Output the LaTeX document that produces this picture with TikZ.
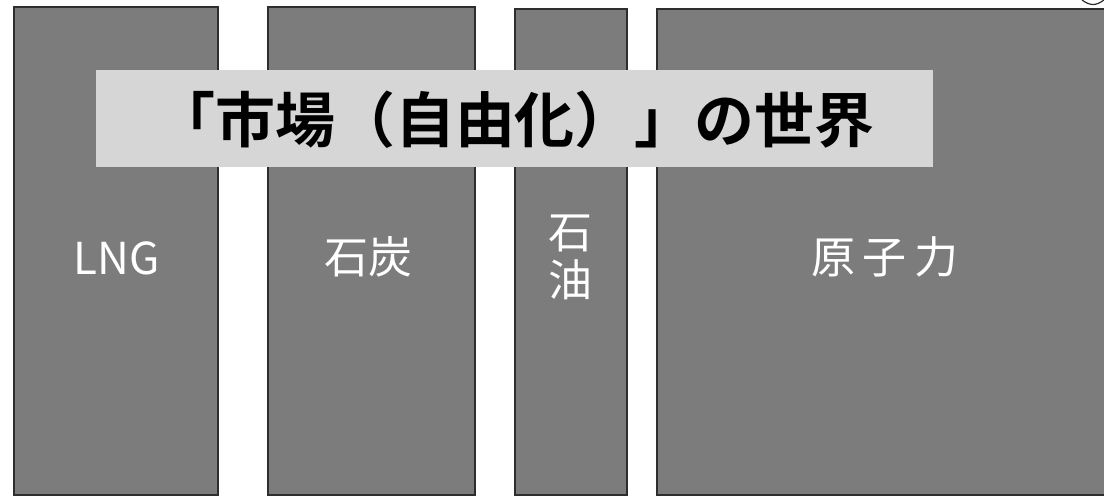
\documentclass[tikz,border=0pt]{standalone}
\usepackage{fontspec}
\newfontfamily\cjk{Noto Sans CJK JP}
\newfontfamily\cjkb{Noto Sans CJK JP Bold}
\definecolor{boxgray}{HTML}{7C7C7C}
\definecolor{bannergray}{HTML}{D6D6D6}
\definecolor{edgegray}{HTML}{2E2E2E}
\tikzset{
  fuelbox/.style={draw=edgegray, line width=1.2pt, fill=boxgray, rectangle, inner sep=0pt},
  fuellabel/.style={text=white, font=\cjk\fontsize{44}{50}\selectfont, inner sep=0pt},
  banner/.style={fill=bannergray, draw=none, rectangle, inner sep=0pt},
}
\begin{document}
\begin{tikzpicture}[x=1pt,y=-1pt]
\useasboundingbox (0,0) rectangle (1104,497);
\fill[white] (0,0) rectangle (1104,497);
\clip (0,0) rectangle (1104,497);
% boxes
\node[fuelbox, minimum width=204pt, minimum height=488pt] (lngbox) at (116,251) {};
\node[fuelbox, minimum width=207pt, minimum height=488pt] (coalbox) at (371.5,251) {};
\node[fuelbox, minimum width=112pt, minimum height=486pt] (oilbox) at (571,252) {};
\node[fuelbox, minimum width=470pt, minimum height=486pt] (nucbox) at (892,252) {};
% labels
\node[fuellabel] (lng) at (117,258) {LNG};
\node[fuellabel] (coal) at (368,257) {石炭};
\node[fuellabel, align=center, font=\cjk\fontsize{44}{48}\selectfont] (oil) at (570,257) {石\\油};
\node[fuellabel] (nuc) at (885,257) {原\,子\,力};
% banner
\node[banner, minimum width=837pt, minimum height=97pt] (bannerbox) at (514.5,118.5) {};
\node[font=\cjkb\fontsize{60}{66}\selectfont, text=black, inner sep=0pt] (title) at (515,120) {「市場（自由化）」の世界};
% partial mark at top right
\draw[edgegray, line width=1.2pt] (1082,0) .. controls (1090,6) and (1096,6) .. (1104,0);
\end{tikzpicture}
\end{document}
